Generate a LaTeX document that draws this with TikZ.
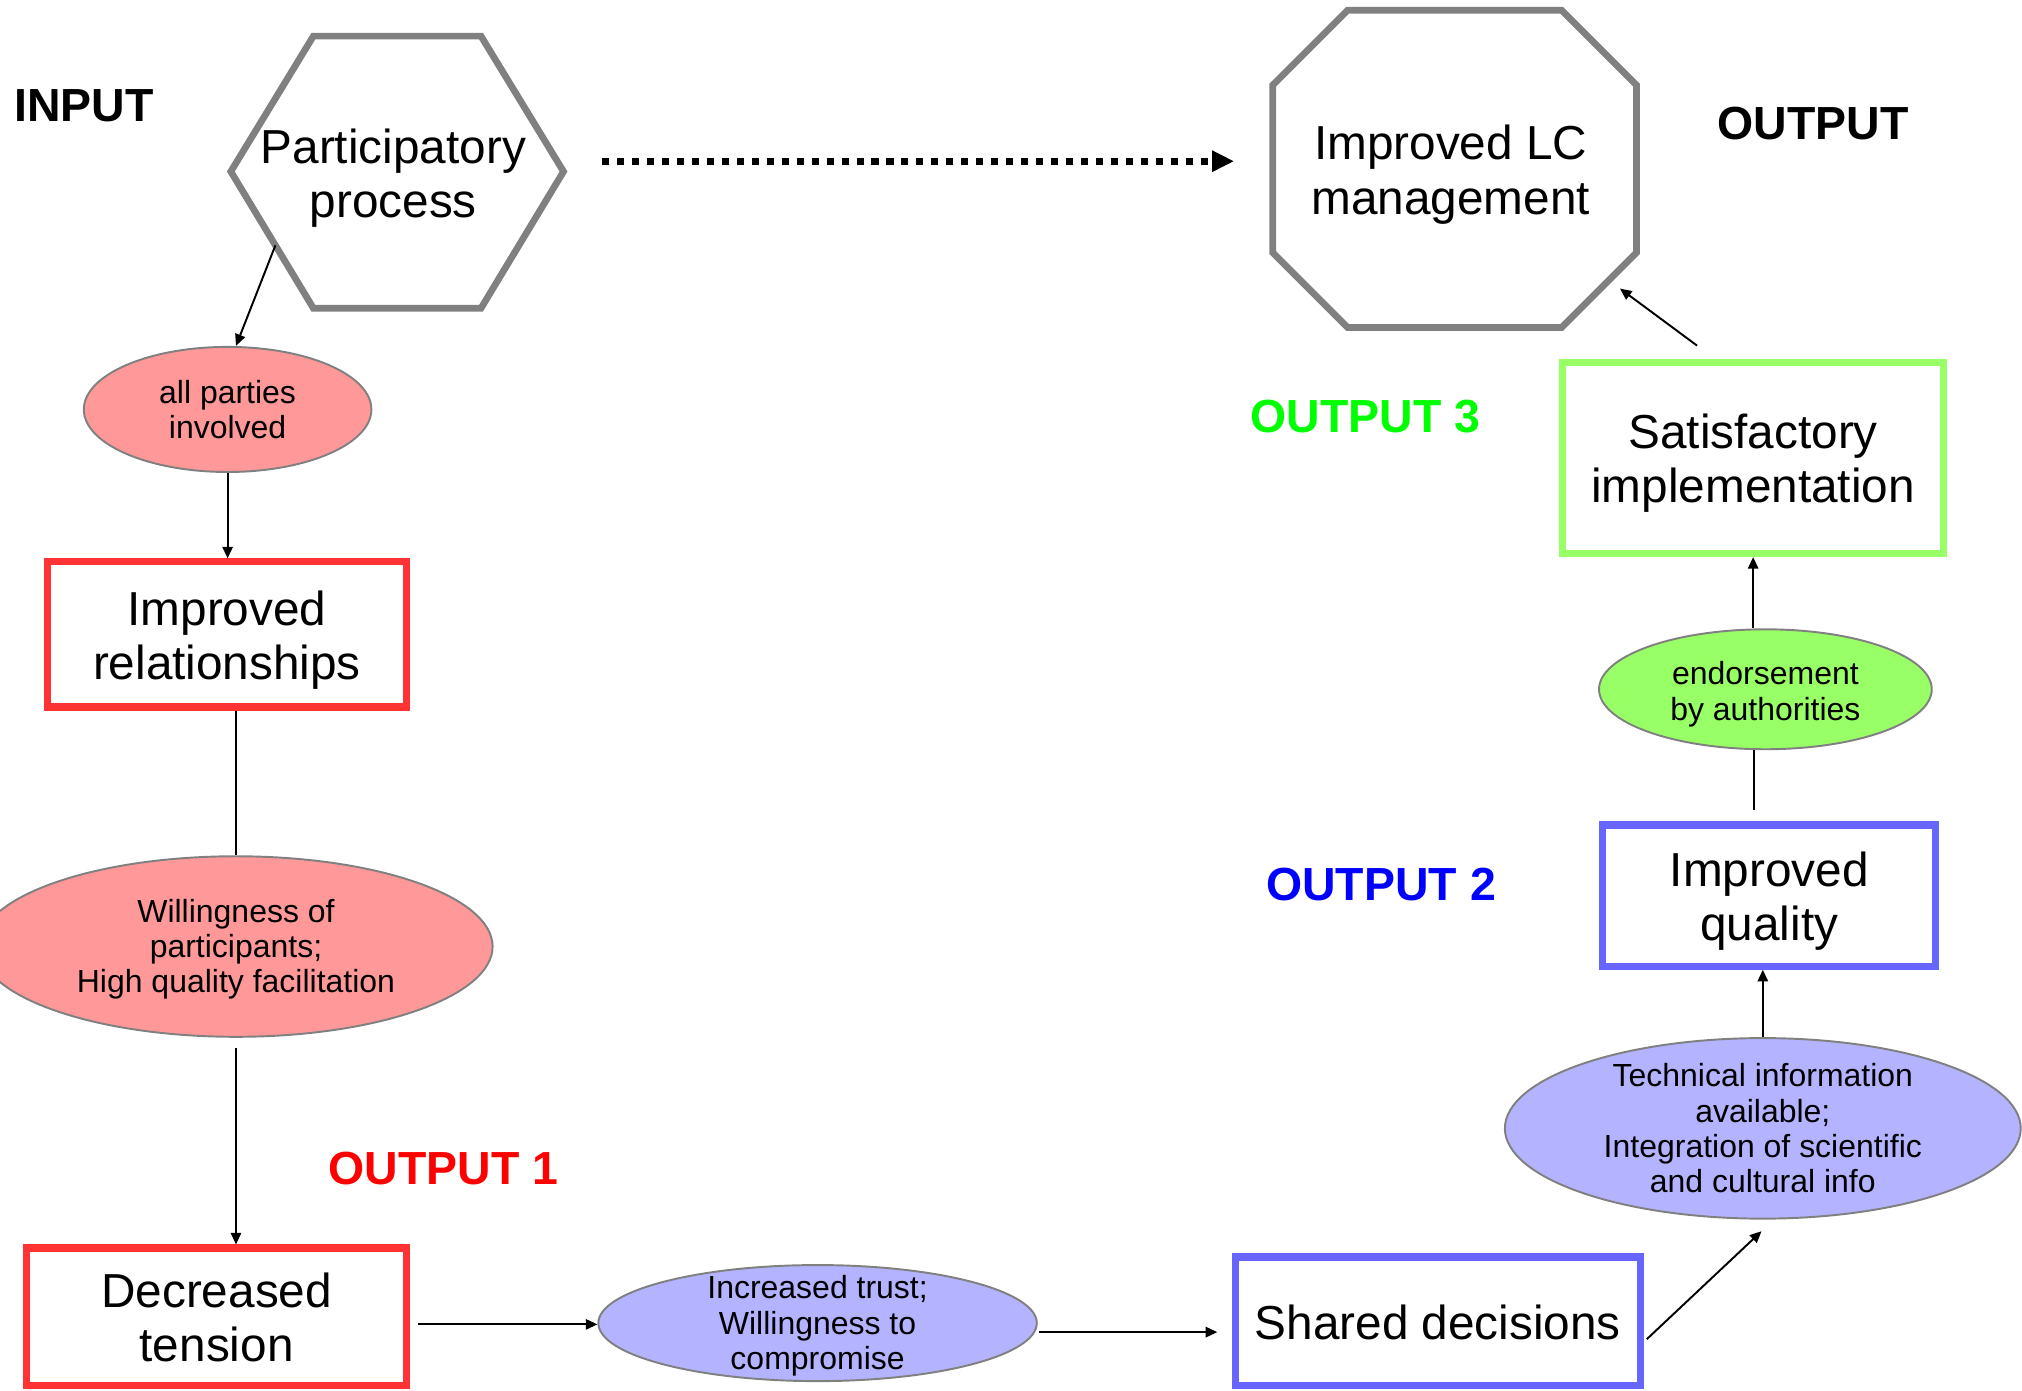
\documentclass[tikz,border=0pt]{standalone}
\usepackage{fontspec}
\setmainfont{Liberation Sans}
\usetikzlibrary{shapes.geometric,arrows.meta,calc}
\definecolor{polygray}{HTML}{808080}
\definecolor{boxred}{HTML}{FF3333}
\definecolor{fillpink}{HTML}{FF9999}
\definecolor{boxblue}{HTML}{6666FF}
\definecolor{fillblue}{HTML}{B3B3FF}
\definecolor{boxgreen}{HTML}{99FF66}
\definecolor{fillgreen}{HTML}{99FF66}
\definecolor{txtred}{HTML}{FF0000}
\definecolor{txtblue}{HTML}{0000FF}
\definecolor{txtgreen}{HTML}{00FF00}
\newcommand\bigtopx{\rule{0pt}{18.5pt}}
\newcommand\bigbotx{\rule[-4.5pt]{0pt}{0pt}}
\newcommand\smalltopx[1]{\rule{0pt}{#1}}
\begin{document}
\begin{tikzpicture}[x=0.5pt,y=-0.5pt,
 bigtext/.style={font=\fontsize{18.5}{21}\selectfont,align=center},
 smalltext/.style={font=\fontsize{12.4}{13.7}\selectfont,align=center},
 lab/.style={font=\bfseries\fontsize{18}{21}\selectfont},
 stagebox/.style={rectangle,draw,line width=2.75pt,inner sep=0pt,bigtext},
 cond/.style={ellipse,draw=polygray,line width=0.75pt,inner xsep=0pt,inner ysep=-6pt,smalltext},
 poly/.style={draw=polygray,line width=2.6pt,line join=miter},
 conn/.style={line width=0.75pt,-{Triangle[length=4.5pt,width=4pt]}},
 plain/.style={line width=0.75pt},
 dotarrow/.style={line width=2.75pt,dash pattern=on 2.75pt off 3.05pt,-{Triangle[length=8.5pt,width=7.75pt]}}
]
\useasboundingbox (0,0) rectangle (1568,1078);
\clip (0,0) rectangle (1568,1078);

% hexagon
\coordinate (h1) at (243,28);
\coordinate (h2) at (373,28);
\coordinate (h3) at (437,133);
\coordinate (h4) at (373,239);
\coordinate (h5) at (243,239);
\coordinate (h6) at (179,133);
\draw[poly] (h1)--(h2)--(h3)--(h4)--(h5)--(h6)--cycle;
\node[bigtext] (hex) at (305,134) {\bigtopx Participatory\\process\bigbotx};

% octagon
\coordinate (o1) at (1045,8);
\coordinate (o2) at (1211,8);
\coordinate (o3) at (1269,66);
\coordinate (o4) at (1269,196);
\coordinate (o5) at (1211,254);
\coordinate (o6) at (1045,254);
\coordinate (o7) at (987,196);
\coordinate (o8) at (987,66);
\draw[poly] (o1)--(o2)--(o3)--(o4)--(o5)--(o6)--(o7)--(o8)--cycle;
\node[bigtext] (oct) at (1125,131) {\bigtopx Improved LC\\management\bigbotx};

% labels
\node[lab] (inp) at (65,82) {INPUT};
\node[lab] (outp) at (1406,96) {OUTPUT};
\node[lab,text=txtred] (out1) at (344,906) {OUTPUT 1};
\node[lab,text=txtblue] (out2) at (1071,686) {OUTPUT 2};
\node[lab,text=txtgreen] (out3) at (1059,323) {OUTPUT 3};

% boxes
\node[stagebox,draw=boxred,minimum width=139.25pt,minimum height=56.25pt] (rel) at (176,492) {\bigtopx Improved\\relationships\bigbotx};
\node[stagebox,draw=boxred,minimum width=147.25pt,minimum height=53.25pt] (dec) at (168,1021) {\bigtopx Decreased\\tension\bigbotx};
\node[stagebox,draw=boxblue,minimum width=157.25pt,minimum height=49.75pt] (shd) at (1115,1024.5) {\bigtopx Shared decisions\bigbotx};
\node[stagebox,draw=boxblue,minimum width=129.25pt,minimum height=54.75pt] (qual) at (1372,694.5) {\bigtopx Improved\\quality\bigbotx};
\node[stagebox,draw=boxgreen,minimum width=147.75pt,minimum height=74.25pt] (sat) at (1359.5,355) {\bigtopx Satisfactory\\implementation\bigbotx};

% ellipses
\node[cond,fill=fillpink,minimum width=111.5pt,minimum height=48.5pt] (allp) at (176.5,317.5) {all parties\\involved};
\node[cond,fill=fillpink,minimum width=199pt,minimum height=70pt] (will) at (183,734) {\smalltopx{11.1pt}Willingness of\\participants;\\High quality facilitation};
\node[cond,fill=fillblue,minimum width=170pt,minimum height=45pt] (inc) at (634,1026) {\smalltopx{11.1pt}Increased trust;\\Willingness to\\compromise};
\node[cond,fill=fillblue,minimum width=200pt,minimum height=70pt] (tech) at (1367,875) {Technical information\\available;\\Integration of scientific\\and cultural info};
\node[cond,fill=fillgreen,minimum width=129pt,minimum height=46.5pt] (endo) at (1369,534.5) {\smalltopx{12.8pt}endorsement\\by authorities};

% connectors
\draw[dotarrow] ($(h3)+(30,-8)$) -- ($(o7)!0.5!(o8)+(-30,-6)$);
\draw[conn] ($(h6)!0.54!(h5)$) -- ($(allp.north)+(6.5,0)$);
\draw[conn] (allp.south) -- (allp.south |- rel.north);
\draw[plain] (will.north |- rel.south) -- (will.north);
\draw[conn] ($(will.south)+(0,8)$) -- (will.south |- dec.north);
\draw[conn] ($(dec.east |- inc.west)+(6,1)$) -- ($(inc.west)+(0,1)$);
\draw[conn] ($(inc.east)+(1,7)$) -- ($(shd.west |- inc.east)+(-11,7)$);
\draw[conn] ($(shd.east)+(2,14)$) -- ($(tech.south)+(-1,9)$);
\draw[conn] (tech.north) -- (tech.north |- qual.south);
\draw[plain] ($(qual.north)+(-12,-9)$) -- ($(endo.south)+(-9,0)$);
\draw[conn] (sat.south |- endo.north) -- (sat.south);
\draw[conn] ($(sat.north)+(-43.5,-10)$) -- ($(o4)!0.22!(o5)+(0,15)$);
\end{tikzpicture}
\end{document}
